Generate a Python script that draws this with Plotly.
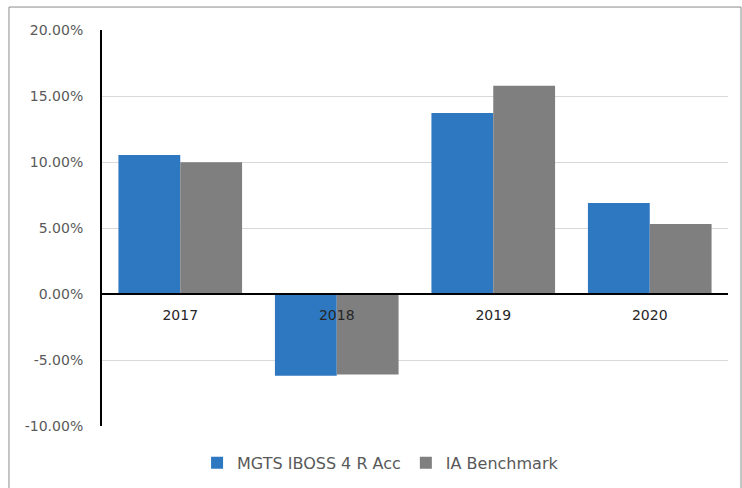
import plotly.graph_objects as go

years = ["2017", "2018", "2019", "2020"]
fund_name = "MGTS IBOSS 4 R Acc"
bench_name = "IA Benchmark"
fund_returns = [0.1053, -0.0620, 0.1371, 0.0690]
bench_returns = [0.0999, -0.0610, 0.1577, 0.0531]
y_ticks = [-0.10, -0.05, 0.0, 0.05, 0.10, 0.15, 0.20]
y_tick_text = [f"{v * 100:.2f}%" for v in y_ticks]

fig = go.Figure()
fig.add_trace(go.Bar(x=years, y=fund_returns, name=fund_name,
                     marker=dict(color="#2E78C2", line=dict(width=0))))
fig.add_trace(go.Bar(x=years, y=bench_returns, name=bench_name,
                     marker=dict(color="#7F7F7F", line=dict(width=0))))

fig.update_layout(
    width=742, height=488,
    margin=dict(l=102, r=14, t=30, b=62, autoexpand=False),
    paper_bgcolor="white", plot_bgcolor="white",
    barmode="group", bargap=0.21, bargroupgap=0,
    font=dict(family="DejaVu Sans", size=14, color="#595959"),
    showlegend=True,
    legend=dict(orientation="h", x=0.445, xanchor="center", y=-0.093, yanchor="middle",
                font=dict(size=16, color="#595959"), itemsizing="constant",
                traceorder="normal", itemwidth=30),
    yaxis=dict(range=[-0.10, 0.20], tickvals=y_ticks, ticktext=y_tick_text,
               showgrid=True, gridcolor="#D9D9D9", gridwidth=1,
               zeroline=False, showline=True, linecolor="black", linewidth=2,
               ticks="", ticklabelstandoff=14, tickfont=dict(color="#595959", size=14)),
    xaxis=dict(type="category", anchor="free", position=1/3,
               showline=True, linecolor="black", linewidth=2, ticks="",
               showgrid=False, tickfont=dict(color="#262626", size=14),
               ticklabelstandoff=8, layer="above traces"),
    shapes=[dict(type="rect", xref="paper", yref="paper",
                 x0=-0.1486, x1=1.0208, y0=-0.17, y1=1.058,
                 line=dict(color="#8C8C8C", width=1), fillcolor="rgba(0,0,0,0)",
                 layer="below")],
)

fig.write_html("out.html",
               config={"displayModeBar": False},
               post_script="document.body.style.margin='0';document.body.style.overflow='hidden';")
